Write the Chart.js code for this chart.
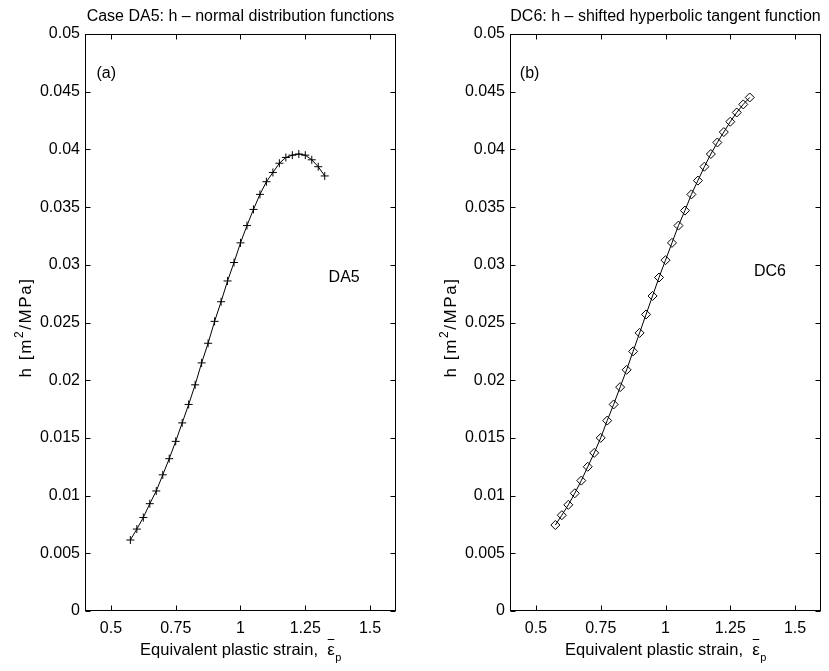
<!DOCTYPE html>
<html><head><meta charset="utf-8">
<script src="https://cdn.jsdelivr.net/npm/chart.js@4.4.0/dist/chart.umd.min.js"></script>
<style>
html,body{margin:0;padding:0;background:#fff;}
#wrap{position:relative;width:829px;height:671px;background:#fff;}
canvas{position:absolute;left:0;top:0;}
</style></head><body>
<div id="wrap"><canvas id="c1" width="829" height="671"></canvas><canvas id="c2" width="829" height="671"></canvas></div>
<script>
// ---- data ----
const strainValues = [0.575,0.6,0.625,0.65,0.675,0.7,0.725,0.75,0.775,0.8,0.825,0.85,0.875,0.9,0.925,0.95,0.975,1.0,1.025,1.05,1.075,1.1,1.125,1.15,1.175,1.2,1.225,1.25,1.275,1.3,1.325];
const hDA5 = [0.00615,0.0071,0.0081,0.0093,0.0104,0.0118,0.0132,0.0147,0.0163,0.0179,0.0196,0.0215,0.0232,0.0251,0.0268,0.0286,0.0302,0.0319,0.0334,0.0348,0.0361,0.0372,0.0380,0.0388,0.0393,0.0395,0.0396,0.0395,0.0391,0.0385,0.0377];
const hDC6 = [0.00745,0.0083,0.0092,0.0102,0.0113,0.0125,0.0137,0.0150,0.0165,0.0179,0.0194,0.0209,0.0225,0.0241,0.0257,0.0273,0.0289,0.0304,0.0319,0.0334,0.0347,0.0361,0.0373,0.0385,0.0396,0.0406,0.0415,0.0424,0.0432,0.0439,0.0445];
const xTickValues = [0.5,0.75,1,1.25,1.5];
const xTickLabels = ['0.5','0.75','1','1.25','1.5'];
const yTickValues = [0,0.005,0.01,0.015,0.02,0.025,0.03,0.035,0.04,0.045,0.05];
const yTickLabels = ['0','0.005','0.01','0.015','0.02','0.025','0.03','0.035','0.04','0.045','0.05'];
const panelTitles = ['Case DA5: h \u2013 normal distribution functions','DC6: h \u2013 shifted hyperbolic tangent function'];
const panelTags = ['(a)','(b)'];
const seriesNames = ['DA5','DC6'];
const xAxisText = 'Equivalent plastic strain,  ';
const yAxisText = ['h [m','2','/MPa]'];

const FONT = '"Liberation Sans", Arial, Helvetica, sans-serif';

function framePlugin(tag, tagAt, name, nameAt) {
  return {
    id: 'frame',
    afterDraw(chart) {
      const ctx = chart.ctx, a = chart.chartArea, x = chart.scales.x, y = chart.scales.y;
      ctx.save();
      ctx.strokeStyle = '#000'; ctx.lineWidth = 1;
      const L = Math.round(a.left)+0.5, T = Math.round(a.top)+0.5, R = Math.round(a.right)-0.5, B = Math.round(a.bottom)-0.5;
      ctx.strokeRect(L, T, R-L, B-T);
      const TL = 5;
      ctx.beginPath();
      xTickValues.forEach(v => {
        const px = Math.round(x.getPixelForValue(v)) + 0.5;
        ctx.moveTo(px, B); ctx.lineTo(px, B - TL);
        ctx.moveTo(px, T); ctx.lineTo(px, T + TL);
      });
      yTickValues.forEach(v => {
        const py = Math.round(y.getPixelForValue(v)) + 0.5;
        ctx.moveTo(L, py); ctx.lineTo(L + TL, py);
        ctx.moveTo(R, py); ctx.lineTo(R - TL, py);
      });
      ctx.stroke();
      ctx.fillStyle = '#000';
      ctx.font = '16px ' + FONT;
      ctx.textBaseline = 'middle'; ctx.textAlign = 'left';
      ctx.fillText(tag, x.getPixelForValue(tagAt[0]), y.getPixelForValue(tagAt[1]));
      ctx.fillText(name, x.getPixelForValue(nameAt[0]), y.getPixelForValue(nameAt[1]));
      // x axis label with epsilon-bar and subscript p
      ctx.textBaseline = 'alphabetic';
      const cx = (a.left + a.right) / 2;
      const base = a.bottom + 44;
      ctx.font = '16.5px ' + FONT;
      const w1 = ctx.measureText(xAxisText).width;
      ctx.font = '17px ' + FONT;
      const w2 = ctx.measureText('\u03b5').width;
      ctx.font = '11px ' + FONT;
      const w3 = ctx.measureText('p').width;
      let sx = cx - (w1 + w2 + w3) / 2;
      ctx.font = '16.5px ' + FONT;
      ctx.fillText(xAxisText, sx, base);
      ctx.font = '17px ' + FONT;
      ctx.fillText('\u03b5', sx + w1, base);
      ctx.beginPath();
      ctx.moveTo(sx + w1 + 0.5, base - 15.5); ctx.lineTo(sx + w1 + w2 - 0.5, base - 15.5); ctx.stroke();
      ctx.font = '11px ' + FONT;
      ctx.fillText('p', sx + w1 + w2 + 0.5, base + 6);
      // y axis label rotated with superscript 2
      ctx.save();
      ctx.translate(a.left - 54, (a.top + a.bottom) / 2 + 5);
      ctx.rotate(-Math.PI / 2);
      ctx.letterSpacing = '1.6px';
      ctx.font = '17px ' + FONT;
      const u1 = ctx.measureText(yAxisText[0]).width;
      const u3 = ctx.measureText(yAxisText[2]).width;
      ctx.font = '12px ' + FONT;
      const u2 = ctx.measureText(yAxisText[1]).width;
      let s = -(u1 + u2 + u3) / 2;
      ctx.font = '17px ' + FONT;
      ctx.fillText(yAxisText[0], s, 0);
      ctx.font = '12px ' + FONT;
      ctx.fillText(yAxisText[1], s + u1, -8);
      ctx.font = '17px ' + FONT;
      ctx.fillText(yAxisText[2], s + u1 + u2, 0);
      ctx.restore();
      ctx.restore();
    }
  };
}

function makeChart(id, title, values, pointStyle, radius, pad, tag, name, tagAt, nameAt) {
  const pts = strainValues.map((sv, i) => ({x: sv, y: values[i]}));
  return new Chart(document.getElementById(id), {
    type: 'line',
    data: { datasets: [{
      data: pts, borderColor: '#000', borderWidth: 1, tension: 0, fill: false,
      pointStyle: pointStyle, pointRadius: radius, pointHoverRadius: radius,
      pointBorderColor: '#000', pointBackgroundColor: 'rgba(0,0,0,0)', pointBorderWidth: 1
    }]},
    options: {
      responsive: false, animation: false, events: [],
      layout: { padding: pad },
      plugins: {
        legend: { display: false }, tooltip: { enabled: false },
        title: { display: true, text: title, fullSize: false, color: '#000',
          font: { family: FONT, size: 16, weight: 'normal', lineHeight: 1.2 },
          padding: { top: 6.5, bottom: 8.3 } }
      },
      scales: {
        x: { type: 'linear', min: 0.4, max: 1.6,
          grid: { display: false, drawTicks: false }, border: { display: false },
          afterBuildTicks: s => { s.ticks = xTickValues.map(v => ({value: v})); },
          afterFit: s => { s.height = 60; },
          ticks: { color: '#000', padding: 8, maxRotation: 0, autoSkip: false,
            font: { family: FONT, size: 16 },
            callback: (v, i) => xTickLabels[i] } },
        y: { type: 'linear', min: 0, max: 0.05,
          grid: { display: false, drawTicks: false }, border: { display: false },
          afterBuildTicks: s => { s.ticks = yTickValues.map(v => ({value: v})); },
          afterFit: s => { s.width = 85; },
          ticks: { color: '#000', padding: 5, autoSkip: false,
            font: { family: FONT, size: 16 },
            callback: (v, i) => yTickLabels[i] } }
      }
    },
    plugins: [framePlugin(tag, tagAt, name, nameAt)]
  });
}

makeChart('c1', panelTitles[0], hDA5, 'cross', 4, {left: 0, right: 433, top: 0, bottom: 0},
  panelTags[0], seriesNames[0], [0.4445, 0.0466], [1.34, 0.0289]);
makeChart('c2', panelTitles[1], hDC6, 'rectRot', 4.5, {left: 425, right: 8, top: 0, bottom: 0},
  panelTags[1], seriesNames[1], [0.438, 0.0466], [1.341, 0.0294]);
</script>
</body></html>
